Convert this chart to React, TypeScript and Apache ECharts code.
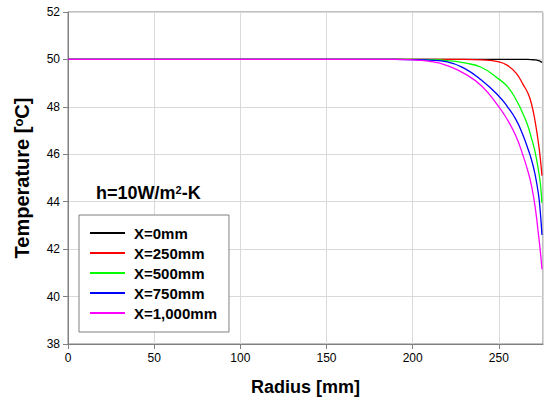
import React, { useEffect, useRef } from "react";
import * as echarts from "echarts";

const radius = [0, 50, 100, 150, 190, 200, 210, 220, 230, 240, 250, 255, 260, 264, 267, 269, 271, 273, 274, 275];
const x0 = [50, 50, 50, 50, 50, 50, 50, 50, 50, 50, 50, 50, 50, 50, 50, 49.99, 49.98, 49.95, 49.92, 49.87];
const x250 = [50, 50, 50, 50, 50, 50, 50, 50, 50, 49.98, 49.9, 49.75, 49.42, 48.95, 48.55, 48.1, 47.4, 46.45, 45.85, 45.1];
const x500 = [50, 50, 50, 50, 50, 50, 49.99, 49.95, 49.85, 49.66, 49.17, 48.85, 48.3, 47.7, 47.16, 46.65, 46.1, 45.3, 44.8, 43.95];
const x750 = [50, 50, 50, 50, 50, 49.99, 49.97, 49.9, 49.62, 49.12, 48.45, 48.0, 47.45, 46.8, 46.2, 45.75, 45.15, 44.3, 43.6, 42.6];
const x1000 = [50, 50, 50, 50, 50, 49.98, 49.92, 49.74, 49.4, 48.88, 48.0, 47.45, 46.75, 45.95, 45.25, 44.65, 43.8, 42.6, 41.95, 41.15];

const seriesNames = ["X=0mm", "X=250mm", "X=500mm", "X=750mm", "X=1,000mm"];
const seriesColors = ["#000000", "#ff0000", "#00ff00", "#0000ff", "#ff00ff"];
const seriesValues = [x0, x250, x500, x750, x1000];

const FONT = "Arial, 'Liberation Sans', sans-serif";

export default function App() {
  const ref = useRef<HTMLDivElement>(null);
  useEffect(() => {
    if (!ref.current) return;
    const chart = echarts.init(ref.current, undefined, { renderer: "svg" });
    chart.setOption({
      animation: false,
      backgroundColor: "#ffffff",
      grid: {
        left: 68,
        right: 6,
        top: 12,
        bottom: 64,
        show: true,
        borderColor: "#808080",
        borderWidth: 1,
      },
      xAxis: {
        type: "value",
        min: 0,
        max: 275.6,
        interval: 50,
        name: "Radius [mm]",
        nameLocation: "middle",
        nameGap: 34,
        nameTextStyle: { fontFamily: FONT, fontWeight: "bold", fontSize: 18, color: "#000" },
        axisLine: { show: true, lineStyle: { color: "#808080", width: 1 } },
        axisTick: { show: true, inside: false, length: 5, lineStyle: { color: "#808080" } },
        axisLabel: { showMaxLabel: false, fontFamily: FONT, fontSize: 12, color: "#000", margin: 8 },
        splitLine: { show: true, lineStyle: { color: "#d9d9d9", width: 1 } },
      },
      yAxis: {
        type: "value",
        min: 38,
        max: 52,
        interval: 2,
        name: "{t|Temperature [}{s|o}{t|C]}",
        nameLocation: "middle",
        nameGap: 36,
        nameRotate: 90,
        nameTextStyle: {
          rich: {
            t: { fontFamily: FONT, fontWeight: "bold", fontSize: 20, color: "#000" },
            s: { fontFamily: FONT, fontWeight: "bold", fontSize: 13, color: "#000", verticalAlign: "top", padding: [0, 0, 7, 0] },
          },
        },
        axisLine: { show: true, lineStyle: { color: "#808080", width: 1 } },
        axisTick: { show: true, inside: false, length: 5, lineStyle: { color: "#808080" } },
        axisLabel: { fontFamily: FONT, fontSize: 12, color: "#000", margin: 8 },
        splitLine: { show: true, lineStyle: { color: "#d9d9d9", width: 1 } },
      },
      legend: {
        orient: "vertical",
        left: 79,
        top: 215,
        padding: [8, 12, 9, 11],
        icon: "rect",
        itemWidth: 35,
        itemHeight: 2,
        itemGap: 0,
        backgroundColor: "#ffffff",
        borderColor: "#808080",
        borderWidth: 1,
        borderRadius: 0,
        data: seriesNames,
        textStyle: { fontFamily: FONT, fontWeight: "bold", fontSize: 15, lineHeight: 20, color: "#000", padding: [0, 0, 0, 4] },
      },
      graphic: [
        {
          type: "text",
          left: 96,
          top: 184,
          z: 100,
          style: {
            text: "{a|h=10W/m}{b|2}{a|-K}",
            rich: {
              a: { fontFamily: FONT, fontWeight: "bold", fontSize: 18, fill: "#000", color: "#000" },
              b: { fontFamily: FONT, fontWeight: "bold", fontSize: 11, fill: "#000", color: "#000", verticalAlign: "top", padding: [0, 0, 7, 0] },
            },
          },
        },
      ],
      series: seriesNames.map((name, i) => ({
        name,
        type: "line",
        data: radius.map((r, j) => [r, seriesValues[i][j]]),
        symbol: "none",
        smooth: 0.5,
        clip: true,
        lineStyle: { color: seriesColors[i], width: 1.3 },
        itemStyle: { color: seriesColors[i] },
        z: 2 + i,
      })),
    });
    return () => chart.dispose();
  }, []);
  return <div ref={ref} style={{ width: 549, height: 408, position: "absolute", left: 0, top: 0 }} />;
}
